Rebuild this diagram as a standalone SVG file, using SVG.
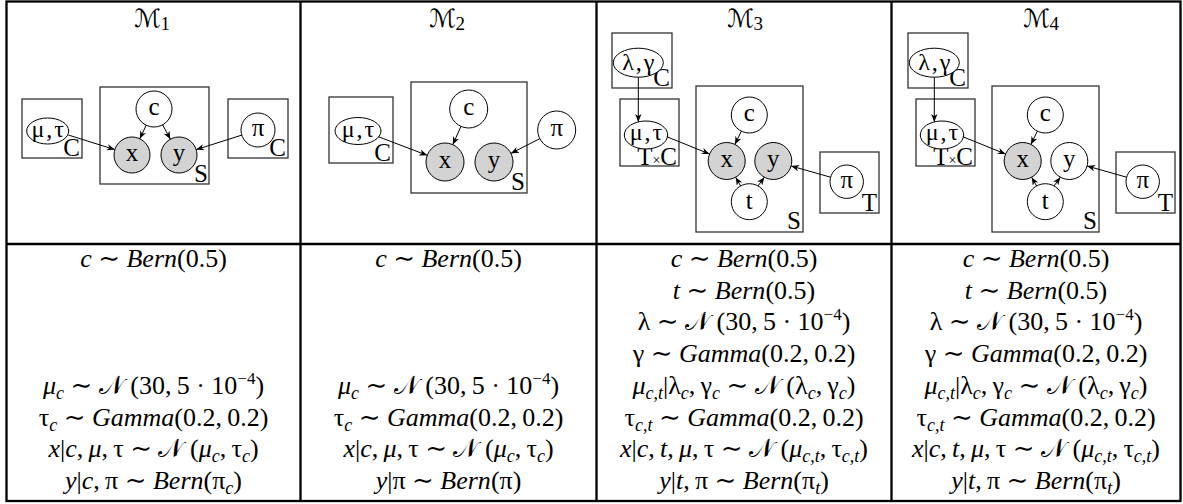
<svg xmlns="http://www.w3.org/2000/svg" width="1183" height="504" viewBox="0 0 1183 504">
<style>
text{font-family:"Liberation Serif","DejaVu Serif","DejaVu Sans",serif;fill:#000}
.title{font-size:25px;text-anchor:middle}
.tsub{font-size:19px}
.nd{fill:#fff;stroke:#000;stroke-width:1}
.obs{fill:#d3d3d3;stroke:#000;stroke-width:1}
.plate{fill:none;stroke:#333;stroke-width:1.3}
.nt{font-size:25px;text-anchor:middle}
.gp{font-size:24px;text-anchor:middle;letter-spacing:2px}
.pl{font-size:25px;text-anchor:end}
.eq{font-size:26px;text-anchor:middle}
.i{font-style:italic}
.s{font-size:18px}
.sup{font-size:17px}
.grid{fill:none;stroke:#000;stroke-width:2.3}
.conn line{stroke:#000;stroke-width:1;marker-end:url(#ah)}
</style>
<defs>
<marker id="ah" viewBox="0 0 10 8" refX="10" refY="4" markerWidth="8" markerHeight="6.4" orient="auto" markerUnits="userSpaceOnUse">
<path d="M0,0 L10,4 L0,8 L3,4 z" fill="#000"/>
</marker>
</defs>

<g id="table">
<rect class="grid" x="6.5" y="1.5" width="1174" height="499.5"/>
<line class="grid" x1="6.5" y1="244" x2="1180.5" y2="244"/>
<line class="grid" x1="300.5" y1="1.5" x2="300.5" y2="501"/>
<line class="grid" x1="596.5" y1="1.5" x2="596.5" y2="501"/>
<line class="grid" x1="891.5" y1="1.5" x2="891.5" y2="501"/>
</g>

<g id="titles">
<text class="title" x="152" y="27">ℳ<tspan class="tsub" dy="3">1</tspan></text>
<text class="title" x="447" y="27">ℳ<tspan class="tsub" dy="3">2</tspan></text>
<text class="title" x="745" y="27">ℳ<tspan class="tsub" dy="3">3</tspan></text>
<text class="title" x="1041" y="27">ℳ<tspan class="tsub" dy="3">4</tspan></text>
</g>

<!-- M1 -->
<g id="m1-plate-c1"><rect class="plate" x="22" y="99" width="60" height="59"/><text class="pl" x="80" y="156">C</text></g>
<g id="m1-plate-s"><rect class="plate" x="100" y="87" width="109" height="97"/><text class="pl" x="208" y="182">S</text></g>
<g id="m1-plate-c2"><rect class="plate" x="228" y="99" width="60" height="59"/><text class="pl" x="286" y="156">C</text></g>
<g id="m1-mutau"><ellipse class="nd" cx="47.7" cy="131" rx="21" ry="13"/><text class="gp" x="48.7" y="137">μ,τ</text></g>
<g id="m1-c"><circle class="nd" cx="154" cy="109" r="18"/><text class="nt" x="154" y="115">c</text></g>
<g id="m1-x"><circle class="obs" cx="132" cy="155" r="18"/><text class="nt" x="132" y="161">x</text></g>
<g id="m1-y"><circle class="obs" cx="179" cy="155" r="18"/><text class="nt" x="179" y="161">y</text></g>
<g id="m1-pi"><circle class="nd" cx="258" cy="130" r="17"/><text class="nt" x="258" y="136">π</text></g>

<!-- M2 -->
<g id="m2-plate-c"><rect class="plate" x="329" y="97" width="64" height="66"/><text class="pl" x="391" y="161">C</text></g>
<g id="m2-plate-s"><rect class="plate" x="411" y="82" width="116" height="111"/><text class="pl" x="525" y="190">S</text></g>
<g id="m2-mutau"><ellipse class="nd" cx="358" cy="131" rx="23" ry="13.5"/><text class="gp" x="359" y="137">μ,τ</text></g>
<g id="m2-c"><circle class="nd" cx="468.7" cy="109" r="19"/><text class="nt" x="468.7" y="115">c</text></g>
<g id="m2-x"><circle class="obs" cx="445" cy="162" r="19"/><text class="nt" x="445" y="168">x</text></g>
<g id="m2-y"><circle class="obs" cx="494" cy="162" r="19"/><text class="nt" x="494" y="168">y</text></g>
<g id="m2-pi"><circle class="nd" cx="556.7" cy="130" r="19"/><text class="nt" x="556.7" y="136">π</text></g>

<!-- M3 -->
<g id="m3-plate-c"><rect class="plate" x="612" y="33" width="60" height="55"/><text class="pl" x="670" y="86">C</text></g>
<g id="m3-plate-tc"><rect class="plate" x="620" y="99" width="59" height="67"/><text class="pl" x="677" y="165">T<tspan font-size="14">×</tspan>C</text></g>
<g id="m3-plate-s"><rect class="plate" x="696" y="86" width="107" height="146"/><text class="pl" x="801" y="229">S</text></g>
<g id="m3-plate-t"><rect class="plate" x="820" y="152" width="59" height="61"/><text class="pl" x="877" y="211">T</text></g>
<g id="m3-lamgam"><ellipse class="nd" cx="638.3" cy="62.7" rx="25" ry="14.5"/><text class="gp" x="639.3" y="70">λ,γ</text></g>
<g id="m3-mutau"><ellipse class="nd" cx="646" cy="135" rx="21.7" ry="14"/><text class="gp" x="647" y="140">μ,τ</text></g>
<g id="m3-c"><circle class="nd" cx="749.3" cy="115" r="18"/><text class="nt" x="749.3" y="121">c</text></g>
<g id="m3-x"><circle class="obs" cx="726.7" cy="161" r="18.5"/><text class="nt" x="726.7" y="167">x</text></g>
<g id="m3-y"><circle class="obs" cx="773.3" cy="161" r="18.5"/><text class="nt" x="773.3" y="167">y</text></g>
<g id="m3-t"><circle class="nd" cx="749.3" cy="201.7" r="18"/><text class="nt" x="749.3" y="209">t</text></g>
<g id="m3-pi"><circle class="nd" cx="846.7" cy="181.7" r="16.7"/><text class="nt" x="846.7" y="188">π</text></g>

<!-- M4 -->
<g id="m4-plate-c"><rect class="plate" x="908" y="33" width="60" height="55"/><text class="pl" x="966" y="86">C</text></g>
<g id="m4-plate-tc"><rect class="plate" x="916" y="99" width="59" height="67"/><text class="pl" x="973" y="165">T<tspan font-size="14">×</tspan>C</text></g>
<g id="m4-plate-s"><rect class="plate" x="992" y="86" width="107" height="146"/><text class="pl" x="1097" y="229">S</text></g>
<g id="m4-plate-t"><rect class="plate" x="1116" y="152" width="59" height="61"/><text class="pl" x="1173" y="211">T</text></g>
<g id="m4-lamgam"><ellipse class="nd" cx="934.3" cy="62.7" rx="25" ry="14.5"/><text class="gp" x="935.3" y="70">λ,γ</text></g>
<g id="m4-mutau"><ellipse class="nd" cx="942" cy="135" rx="21.7" ry="14"/><text class="gp" x="943" y="140">μ,τ</text></g>
<g id="m4-c"><circle class="nd" cx="1045.3" cy="115" r="18"/><text class="nt" x="1045.3" y="121">c</text></g>
<g id="m4-x"><circle class="obs" cx="1022.7" cy="161" r="18.5"/><text class="nt" x="1022.7" y="167">x</text></g>
<g id="m4-y"><circle class="nd" cx="1069.3" cy="161" r="18.5"/><text class="nt" x="1069.3" y="167">y</text></g>
<g id="m4-t"><circle class="nd" cx="1045.3" cy="201.7" r="18"/><text class="nt" x="1045.3" y="209">t</text></g>
<g id="m4-pi"><circle class="nd" cx="1142.7" cy="181.7" r="16.7"/><text class="nt" x="1142.7" y="188">π</text></g>

<g id="connectors" class="conn">
<line x1="68.3" y1="135" x2="114.8" y2="149.6"/>
<line x1="146.2" y1="125.2" x2="139.8" y2="138.8"/>
<line x1="162.6" y1="124.8" x2="170.4" y2="139.2"/>
<line x1="241.8" y1="135.1" x2="196.2" y2="149.6"/>

<line x1="378.3" y1="136.7" x2="427.2" y2="155.3"/>
<line x1="461" y1="126.3" x2="452.8" y2="144.7"/>
<line x1="539.8" y1="138.6" x2="510.9" y2="153.4"/>

<line x1="638.3" y1="77.2" x2="638.3" y2="121.9"/>
<line x1="666.7" y1="136.7" x2="709.6" y2="154"/>
<line x1="741.4" y1="131.2" x2="734.9" y2="144.4"/>
<line x1="740.6" y1="186" x2="735.7" y2="177.2"/>
<line x1="758" y1="186" x2="764.3" y2="177.2"/>
<line x1="830.6" y1="177.2" x2="791.1" y2="166"/>

<line x1="934.3" y1="77.2" x2="934.3" y2="121.9"/>
<line x1="962.7" y1="136.7" x2="1005.6" y2="154"/>
<line x1="1037.4" y1="131.2" x2="1030.9" y2="144.4"/>
<line x1="1036.6" y1="186" x2="1031.7" y2="177.2"/>
<line x1="1054" y1="186" x2="1060.3" y2="177.2"/>
<line x1="1126.6" y1="177.2" x2="1087.1" y2="166"/>
</g>

<g id="equations-m1">
<text class="eq" x="153.5" y="267"><tspan class="i">c</tspan> ∼ <tspan class="i">Bern</tspan>(0.5)</text>
<text class="eq" x="153.5" y="394"><tspan class="i">μ</tspan><tspan class="s i" dy="5">c</tspan><tspan dy="-5"> ∼ 𝒩 (30,&#8201;5 · 10</tspan><tspan class="sup" dy="-10">−4</tspan><tspan dy="10">)</tspan></text>
<text class="eq" x="153.5" y="425.5">τ<tspan class="s i" dy="5">c</tspan><tspan dy="-5"> ∼ </tspan><tspan class="i">Gamma</tspan>(0.2,&#8201;0.2)</text>
<text class="eq" x="153.5" y="457"><tspan class="i">x</tspan>|<tspan class="i">c</tspan>,&#8201;<tspan class="i">μ</tspan>,&#8201;τ ∼ 𝒩 (<tspan class="i">μ</tspan><tspan class="s i" dy="5">c</tspan><tspan dy="-5">,&#8201;τ</tspan><tspan class="s i" dy="5">c</tspan><tspan dy="-5">)</tspan></text>
<text class="eq" x="153.5" y="489"><tspan class="i">y</tspan>|<tspan class="i">c</tspan>,&#8201;π ∼ <tspan class="i">Bern</tspan>(π<tspan class="s i" dy="5">c</tspan><tspan dy="-5">)</tspan></text>
</g>

<g id="equations-m2">
<text class="eq" x="448.5" y="267"><tspan class="i">c</tspan> ∼ <tspan class="i">Bern</tspan>(0.5)</text>
<text class="eq" x="448.5" y="394"><tspan class="i">μ</tspan><tspan class="s i" dy="5">c</tspan><tspan dy="-5"> ∼ 𝒩 (30,&#8201;5 · 10</tspan><tspan class="sup" dy="-10">−4</tspan><tspan dy="10">)</tspan></text>
<text class="eq" x="448.5" y="425.5">τ<tspan class="s i" dy="5">c</tspan><tspan dy="-5"> ∼ </tspan><tspan class="i">Gamma</tspan>(0.2,&#8201;0.2)</text>
<text class="eq" x="448.5" y="457"><tspan class="i">x</tspan>|<tspan class="i">c</tspan>,&#8201;<tspan class="i">μ</tspan>,&#8201;τ ∼ 𝒩 (<tspan class="i">μ</tspan><tspan class="s i" dy="5">c</tspan><tspan dy="-5">,&#8201;τ</tspan><tspan class="s i" dy="5">c</tspan><tspan dy="-5">)</tspan></text>
<text class="eq" x="448.5" y="489"><tspan class="i">y</tspan>|π ∼ <tspan class="i">Bern</tspan>(π)</text>
</g>

<g id="equations-m3">
<text class="eq" x="744" y="267"><tspan class="i">c</tspan> ∼ <tspan class="i">Bern</tspan>(0.5)</text>
<text class="eq" x="744" y="298.7"><tspan class="i">t</tspan> ∼ <tspan class="i">Bern</tspan>(0.5)</text>
<text class="eq" x="744" y="330.4">λ ∼ 𝒩 (30,&#8201;5 · 10<tspan class="sup" dy="-10">−4</tspan><tspan dy="10">)</tspan></text>
<text class="eq" x="744" y="362">γ ∼ <tspan class="i">Gamma</tspan>(0.2,&#8201;0.2)</text>
<text class="eq" x="744" y="394"><tspan class="i">μ</tspan><tspan class="s i" dy="5">c,t</tspan><tspan dy="-5">|λ</tspan><tspan class="s i" dy="5">c</tspan><tspan dy="-5">,&#8201;γ</tspan><tspan class="s i" dy="5">c</tspan><tspan dy="-5"> ∼ 𝒩 (λ</tspan><tspan class="s i" dy="5">c</tspan><tspan dy="-5">,&#8201;γ</tspan><tspan class="s i" dy="5">c</tspan><tspan dy="-5">)</tspan></text>
<text class="eq" x="744" y="425.5">τ<tspan class="s i" dy="5">c,t</tspan><tspan dy="-5"> ∼ </tspan><tspan class="i">Gamma</tspan>(0.2,&#8201;0.2)</text>
<text class="eq" x="744" y="457"><tspan class="i">x</tspan>|<tspan class="i">c</tspan>,&#8201;<tspan class="i">t</tspan>,&#8201;<tspan class="i">μ</tspan>,&#8201;τ ∼ 𝒩 (<tspan class="i">μ</tspan><tspan class="s i" dy="5">c,t</tspan><tspan dy="-5">,&#8201;τ</tspan><tspan class="s i" dy="5">c,t</tspan><tspan dy="-5">)</tspan></text>
<text class="eq" x="744" y="489"><tspan class="i">y</tspan>|<tspan class="i">t</tspan>,&#8201;π ∼ <tspan class="i">Bern</tspan>(π<tspan class="s i" dy="5">t</tspan><tspan dy="-5">)</tspan></text>
</g>

<g id="equations-m4">
<text class="eq" x="1036" y="267"><tspan class="i">c</tspan> ∼ <tspan class="i">Bern</tspan>(0.5)</text>
<text class="eq" x="1036" y="298.7"><tspan class="i">t</tspan> ∼ <tspan class="i">Bern</tspan>(0.5)</text>
<text class="eq" x="1036" y="330.4">λ ∼ 𝒩 (30,&#8201;5 · 10<tspan class="sup" dy="-10">−4</tspan><tspan dy="10">)</tspan></text>
<text class="eq" x="1036" y="362">γ ∼ <tspan class="i">Gamma</tspan>(0.2,&#8201;0.2)</text>
<text class="eq" x="1036" y="394"><tspan class="i">μ</tspan><tspan class="s i" dy="5">c,t</tspan><tspan dy="-5">|λ</tspan><tspan class="s i" dy="5">c</tspan><tspan dy="-5">,&#8201;γ</tspan><tspan class="s i" dy="5">c</tspan><tspan dy="-5"> ∼ 𝒩 (λ</tspan><tspan class="s i" dy="5">c</tspan><tspan dy="-5">,&#8201;γ</tspan><tspan class="s i" dy="5">c</tspan><tspan dy="-5">)</tspan></text>
<text class="eq" x="1036" y="425.5">τ<tspan class="s i" dy="5">c,t</tspan><tspan dy="-5"> ∼ </tspan><tspan class="i">Gamma</tspan>(0.2,&#8201;0.2)</text>
<text class="eq" x="1036" y="457"><tspan class="i">x</tspan>|<tspan class="i">c</tspan>,&#8201;<tspan class="i">t</tspan>,&#8201;<tspan class="i">μ</tspan>,&#8201;τ ∼ 𝒩 (<tspan class="i">μ</tspan><tspan class="s i" dy="5">c,t</tspan><tspan dy="-5">,&#8201;τ</tspan><tspan class="s i" dy="5">c,t</tspan><tspan dy="-5">)</tspan></text>
<text class="eq" x="1036" y="489"><tspan class="i">y</tspan>|<tspan class="i">t</tspan>,&#8201;π ∼ <tspan class="i">Bern</tspan>(π<tspan class="s i" dy="5">t</tspan><tspan dy="-5">)</tspan></text>
</g>
</svg>
